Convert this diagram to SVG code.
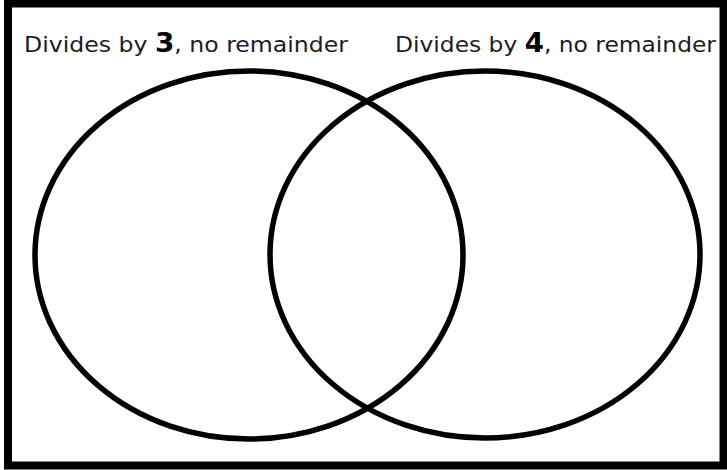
<svg xmlns="http://www.w3.org/2000/svg" width="727" height="470" viewBox="0 0 727 470">
<style>
.frame{fill:#fff;stroke:#000;stroke-width:8}
.set{fill:none;stroke:#000;stroke-width:5.5}
.lbl{font-family:"DejaVu Sans","Liberation Sans",sans-serif;font-size:22px;fill:#1c1c28}
.num{font-weight:bold;font-size:26px;fill:#000}
</style>
<rect class="frame" x="8" y="3.5" width="715.5" height="462"/>
<g id="set-3">
<ellipse class="set" cx="249" cy="255" rx="214" ry="184"/>
<text class="lbl" x="24" y="52" textLength="324" lengthAdjust="spacingAndGlyphs">Divides by <tspan class="num">3</tspan>, no remainder</text>
</g>
<g id="set-4">
<ellipse class="set" cx="485" cy="254.5" rx="215" ry="183.5"/>
<text class="lbl" x="395" y="52" textLength="321" lengthAdjust="spacingAndGlyphs">Divides by <tspan class="num">4</tspan>, no remainder</text>
</g>
<g id="connectors"/>
</svg>
